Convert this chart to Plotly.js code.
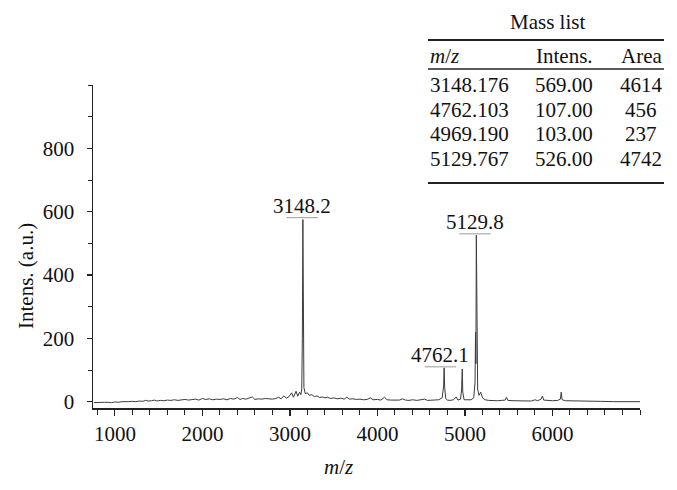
<!DOCTYPE html>
<html>
<head>
<meta charset="utf-8">
<script src="https://cdn.plot.ly/plotly-3.0.1.min.js"></script>
<style>
  html, body { margin: 0; padding: 0; background: #fff; }
  #chart { width: 677px; height: 490px; }
</style>
</head>
<body>
<div id="chart"></div>
<script>
// --- spectrum (m/z, intensity a.u.) ---
const mz = [760, 800, 840, 880, 920, 960, 1000, 1040, 1080, 1120, 1160, 1200, 1240, 1280, 1320, 1350, 1380, 1420, 1450, 1480,
  1520, 1560, 1600, 1640, 1680, 1720, 1760, 1800, 1840, 1880, 1920, 1960, 2000, 2040, 2080, 2120, 2160, 2200, 2240, 2280,
  2320, 2360, 2400, 2430, 2460, 2500, 2540, 2570, 2600, 2640, 2680, 2720, 2760, 2800, 2840, 2870, 2900, 2930, 2960, 2990,
  3020, 3040, 3070, 3090, 3110, 3125, 3135, 3142, 3148, 3154, 3160, 3175, 3200, 3220, 3250, 3280, 3310, 3340, 3370, 3400,
  3430, 3460, 3500, 3540, 3580, 3620, 3650, 3680, 3720, 3760, 3800, 3840, 3880, 3920, 3950, 4000, 4040, 4080, 4110, 4150,
  4200, 4250, 4290, 4320, 4360, 4400, 4450, 4500, 4540, 4570, 4620, 4660, 4700, 4740, 4756, 4762, 4768, 4780, 4800, 4830,
  4870, 4900, 4920, 4950, 4962, 4969, 4975, 4990, 5030, 5070, 5100, 5115, 5121, 5125, 5130, 5136, 5145, 5160, 5180, 5200,
  5230, 5270, 5320, 5370, 5420, 5460, 5475, 5490, 5550, 5620, 5700, 5760, 5800, 5830, 5870, 5885, 5900, 5960, 6000, 6060,
  6090, 6100, 6110, 6150, 6250, 6400, 6550, 6700, 6850, 7000];
const intens = [-3, -2, -3, -2, -2, -3, -1, -2, 0, -1, 0, 1, 0, 2, 1, 4, 2, 3, 5, 2,
  4, 3, 5, 4, 6, 4, 5, 7, 5, 6, 8, 5, 10, 7, 9, 6, 8, 7, 9, 6,
  10, 8, 13, 7, 10, 8, 11, 15, 7, 9, 8, 10, 9, 8, 10, 14, 9, 18, 11, 16,
  28, 14, 33, 17, 30, 22, 40, 200, 575, 180, 45, 25, 28, 20, 22, 16, 18, 13, 15, 12,
  14, 10, 12, 9, 11, 8, 14, 8, 9, 7, 8, 6, 7, 12, 6, 7, 5, 14, 6, 5,
  6, 5, 9, 5, 4, 6, 4, 5, 8, 4, 5, 4, 6, 12, 50, 107, 45, 10, 5, 4,
  6, 15, 5, 8, 40, 103, 30, 6, 5, 6, 12, 60, 220, 120, 526, 150, 40, 20, 30, 12,
  6, 4, 3, 3, 4, 5, 14, 4, 3, 2, 3, 2, 6, 3, 8, 18, 5, 3, 3, 4,
  8, 30, 6, 3, 2, 1, 1, 0, 0, 0];

// --- peak labels ---
const peakLabels = ['3148.2', '4762.1', '5129.8'];
const peakX = [3140, 4720, 5115];
const peakY = [581, 110, 530];

// --- mass list table ---
const tableHead = ['<i>m</i>/<i>z</i>', 'Intens.', 'Area'];
const tableMz = ['3148.176', '4762.103', '4969.190', '5129.767'];
const tableIntens = ['569.00', '107.00', '103.00', '526.00'];
const tableArea = ['4614', '456', '237', '4742'];

const yTicks = [0, 200, 400, 600, 800];
const xTicks = [1000, 2000, 3000, 4000, 5000, 6000];

// plot area in pixels, used to place things outside it
const L = 93, R = 640, T = 85, B = 408;
const px = x => (x - L) / (R - L);
const py = y => (B - y) / (B - T);

const serif = 'Liberation Serif, Times New Roman, serif';
const txt = { family: serif, size: 21, color: '#111' };

const trace = {
  x: mz,
  y: intens,
  mode: 'lines',
  type: 'scatter',
  line: { color: '#3c3c3c', width: 1 },
  hoverinfo: 'x+y'
};

const annotations = [];
const shapes = [];

// peak labels with their little horizontal bars
peakLabels.forEach((lab, i) => {
  annotations.push({
    x: peakX[i], y: peakY[i], xref: 'x', yref: 'y',
    text: lab, showarrow: false, yanchor: 'bottom', yshift: -2,
    font: txt
  });
  shapes.push({
    type: 'line', xref: 'x', yref: 'y',
    x0: peakX[i] - 180, x1: peakX[i] + 180, y0: peakY[i], y1: peakY[i],
    line: { color: '#9a9a9a', width: 1 }
  });
});

// paper-positioned text helper
function note(x, y, text, xanchor, extra) {
  annotations.push(Object.assign({
    xref: 'paper', yref: 'paper', x: px(x), y: py(y),
    xanchor: xanchor || 'center', yanchor: 'middle',
    text: text, showarrow: false, font: txt
  }, extra || {}));
}

// axis titles (placed like the original, off-centre)
note(338, 467, '<i>m</i>/<i>z</i>');
note(26, 276, 'Intens. (a.u.)', 'center', { textangle: -90 });

// table
note(547, 22, 'Mass list');
const colX = [428, 564, 641];
const colAnchor = ['left', 'center', 'center'];
tableHead.forEach((h, c) => note(colX[c], 56, h, colAnchor[c]));
const rowY = [85, 109.5, 134, 158.5];
tableMz.forEach((m, r) => {
  [m, tableIntens[r], tableArea[r]].forEach((v, c) => note(colX[c], rowY[r], v, colAnchor[c]));
});
[[40, 2], [69, 1.5], [183, 2]].forEach(([y, w]) => {
  shapes.push({
    type: 'line', xref: 'paper', yref: 'paper',
    x0: px(428), x1: px(664), y0: py(y), y1: py(y),
    line: { color: '#222', width: w }
  });
});

const layout = {
  width: 677,
  height: 490,
  margin: { l: L, r: 677 - R, t: T, b: 490 - B },
  paper_bgcolor: '#fff',
  plot_bgcolor: '#fff',
  showlegend: false,
  font: txt,
  xaxis: {
    range: [750, 7000],
    tickvals: xTicks,
    ticks: 'outside', ticklen: 6, tickwidth: 1.2, tickcolor: '#222',
    minor: { dtick: 200, tick0: 0, ticks: 'outside', ticklen: 5, tickwidth: 1, tickcolor: '#222' },
    showline: true, linecolor: '#222', linewidth: 1.5,
    showgrid: false, zeroline: false,
    ticklabelstandoff: 0,
    tickfont: txt
  },
  yaxis: {
    range: [-20, 1000],
    tickvals: yTicks,
    ticks: 'outside', ticklen: 5, tickwidth: 1.2, tickcolor: '#222',
    minor: { dtick: 100, tick0: 0, ticks: 'outside', ticklen: 4, tickwidth: 1, tickcolor: '#222' },
    showline: true, linecolor: '#222', linewidth: 1.5,
    showgrid: false, zeroline: false,
    ticklabelstandoff: 8,
    tickfont: txt
  },
  annotations: annotations,
  shapes: shapes
};

Plotly.newPlot('chart', [trace], layout, { displayModeBar: false, staticPlot: true });
</script>
</body>
</html>
